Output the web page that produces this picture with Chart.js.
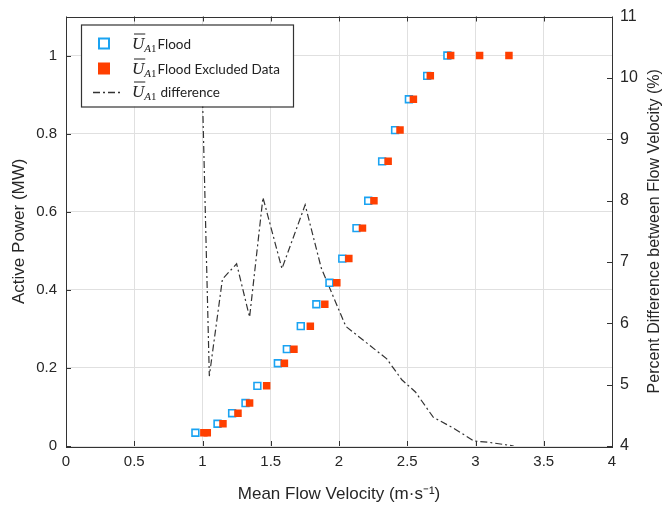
<!DOCTYPE html>
<html><head><meta charset="utf-8">
<script src="https://cdn.jsdelivr.net/npm/chart.js@4.4.0/dist/chart.umd.min.js"></script>
<style>html,body{margin:0;padding:0;background:#fff;overflow:hidden}#wrap{position:relative;width:668px;height:505px}</style>
</head><body><div id="wrap"><canvas id="c" width="668" height="505"></canvas></div>
<script>
// ---- data ----
const velFlood = [0.948, 1.11, 1.217, 1.315, 1.402, 1.552, 1.618, 1.72, 1.834, 1.93, 2.024, 2.128, 2.214, 2.316, 2.411, 2.512, 2.646, 2.794];
const powerFlood = [0.034, 0.057, 0.084, 0.110, 0.154, 0.212, 0.248, 0.307, 0.363, 0.418, 0.480, 0.558, 0.628, 0.729, 0.809, 0.888, 0.948, 1.0];
const velExcluded = [1.01, 1.035, 1.15, 1.26, 1.345, 1.47, 1.60, 1.67, 1.79, 1.896, 1.984, 2.072, 2.172, 2.256, 2.36, 2.447, 2.545, 2.669, 2.818, 3.03, 3.245];
const powerExcluded = [0.034, 0.034, 0.057, 0.084, 0.110, 0.154, 0.212, 0.248, 0.307, 0.363, 0.418, 0.480, 0.558, 0.628, 0.729, 0.809, 0.888, 0.948, 1.0, 1.0, 1.0];
const diffVel = [0.99, 1.05, 1.146, 1.25, 1.345, 1.443, 1.582, 1.752, 1.87, 2.05, 2.35, 2.46, 2.56, 2.69, 2.84, 2.99, 3.1, 3.28];
const diffPct = [10.6, 5.14, 6.72, 6.97, 6.10, 8.05, 6.89, 7.93, 6.9, 5.95, 5.42, 5.08, 4.88, 4.47, 4.29, 4.08, 4.06, 4.0];
const xTicks = [0, 0.5, 1, 1.5, 2, 2.5, 3, 3.5, 4];
const powerTicks = [0, 0.2, 0.4, 0.6, 0.8, 1];
const pctTicks = [4, 5, 6, 7, 8, 9, 10, 11];
const seriesNames = ['Flood', 'Flood Excluded Data', 'difference'];
const xTitle = 'Mean Flow Velocity (m\u00B7s\u207B\u00B9)';
const yTitle = 'Active Power (MW)';
const y2Title = 'Percent Difference between Flow Velocity (%)';

const BLUE = '#1aa3f2', RED = '#ff3f00', LINE = '#333333', AX = '#333333', TXT = '#262626';
const SANS = '"Liberation Sans", Arial, sans-serif';
const LEG = 'Lato, "Open Sans", sans-serif';

const pts = (xs, ys) => xs.map((x, i) => ({x: x, y: ys[i]}));

const boxPlugin = {
  id: 'boxPlugin',
  afterDraw(chart) {
    const ctx = chart.ctx, a = chart.chartArea;
    const sx = chart.scales.x, sy = chart.scales.y, sy2 = chart.scales.y2;
    ctx.save();
    ctx.strokeStyle = AX; ctx.lineWidth = 1;
    const L = 5;
    ctx.beginPath();
    xTicks.forEach(v => { const p = Math.round(sx.getPixelForValue(v)) + 0.5;
      ctx.moveTo(p, a.bottom); ctx.lineTo(p, a.bottom - L);
      ctx.moveTo(p, a.top); ctx.lineTo(p, a.top + L); });
    powerTicks.forEach(v => { const p = Math.round(sy.getPixelForValue(v)) + 0.5;
      ctx.moveTo(a.left, p); ctx.lineTo(a.left + L, p); });
    pctTicks.forEach(v => { const p = Math.round(sy2.getPixelForValue(v)) + 0.5;
      ctx.moveTo(a.right, p); ctx.lineTo(a.right - L, p); });
    ctx.stroke();
    ctx.strokeRect(Math.round(a.left) + 0.5, Math.round(a.top) + 0.5, Math.round(a.right - a.left), Math.round(a.bottom - a.top));
    ctx.fillStyle = TXT; ctx.font = '16px ' + SANS;
    ctx.textAlign = 'center'; ctx.textBaseline = 'middle';
    ctx.translate(655, (a.top + a.bottom) / 2);
    ctx.rotate(-Math.PI / 2);
    ctx.fillText(y2Title, 0, 0);
    ctx.restore();

    // legend
    ctx.save();
    const lx = a.left + 15, ly = a.top + 8, lw = 212, lh = 82;
    ctx.fillStyle = '#fff'; ctx.fillRect(lx, ly, lw, lh);
    ctx.strokeStyle = '#333'; ctx.lineWidth = 1.2;
    ctx.strokeRect(lx + 0.5, ly + 0.5, lw, lh);
    const rows = [ly + 19, ly + 44, ly + 67];
    const sxm = lx + 23;
    ctx.strokeStyle = BLUE; ctx.lineWidth = 2; ctx.fillStyle = '#fff';
    ctx.fillRect(sxm - 5, rows[0] - 5, 10, 10); ctx.strokeRect(sxm - 5, rows[0] - 5, 10, 10);
    ctx.fillStyle = RED; ctx.fillRect(sxm - 6, rows[1] - 6, 12, 12);
    ctx.strokeStyle = LINE; ctx.lineWidth = 1.4; ctx.setLineDash([7, 3, 2, 3]);
    ctx.beginPath(); ctx.moveTo(lx + 12, rows[2] + 1); ctx.lineTo(lx + 39, rows[2] + 1); ctx.stroke();
    ctx.setLineDash([]);
    ctx.fillStyle = '#222'; ctx.textAlign = 'left'; ctx.textBaseline = 'alphabetic';
    rows.forEach((ry, i) => {
      let tx = lx + 51;
      const base = ry + 5;
      ctx.font = 'italic 17px "Liberation Serif", serif';
      ctx.fillText('U', tx, base);
      const wU = ctx.measureText('U').width;
      ctx.lineWidth = 1; ctx.strokeStyle = '#222';
      ctx.beginPath(); ctx.moveTo(tx + 2, base - 14.5); ctx.lineTo(tx + wU + 1, base - 14.5); ctx.stroke();
      tx += wU;
      ctx.font = 'italic 11px "Liberation Serif", serif';
      ctx.fillText('A', tx, base + 3);
      tx += ctx.measureText('A').width;
      ctx.font = '11px "Liberation Serif", serif';
      ctx.fillText('1', tx, base + 3);
      tx += ctx.measureText('1').width + (i === 2 ? 4 : 1);
      ctx.font = '13.5px ' + LEG;
      ctx.fillText(seriesNames[i], tx, base);
    });
    ctx.restore();
  }
};

const tickFont = {family: SANS, size: 15};
new Chart(document.getElementById('c'), {
  type: 'scatter',
  data: {
    datasets: [
      {label: seriesNames[0], data: pts(velFlood, powerFlood), yAxisID: 'y', order: 1,
       pointStyle: 'rect', pointRadius: 4.8, pointBorderWidth: 1.6, pointBorderColor: BLUE, pointBackgroundColor: '#fff'},
      {label: seriesNames[1], data: pts(velExcluded, powerExcluded), yAxisID: 'y', order: 0,
       pointStyle: 'rect', pointRadius: 5.3, pointBorderWidth: 0, pointBorderColor: RED, pointBackgroundColor: RED},
      {label: seriesNames[2], type: 'line', data: pts(diffVel, diffPct), yAxisID: 'y2', order: 2,
       showLine: true, borderColor: LINE, borderWidth: 1.2, borderDash: [7, 3, 2, 3], pointRadius: 0, fill: false, tension: 0}
    ]
  },
  options: {
    responsive: false, animation: false, devicePixelRatio: 1,
    layout: {padding: {top: 6, left: 0, right: 0, bottom: 0}},
    plugins: {legend: {display: false}, tooltip: {enabled: false}},
    scales: {
      x: {type: 'linear', position: 'bottom', min: 0, max: 4,
          afterBuildTicks: s => { s.ticks = xTicks.map(v => ({value: v})); },
          afterFit: s => { s.height = 59; },
          ticks: {font: tickFont, color: TXT, padding: 7, maxRotation: 0, callback: v => String(v)},
          grid: {color: '#e0e0e0', drawTicks: false}, border: {display: false},
          title: {display: true, text: xTitle, color: TXT, font: {family: SANS, size: 17}, padding: {top: 0, bottom: 0}}},
      y: {type: 'linear', position: 'left', min: 0, max: 1.1,
          afterBuildTicks: s => { s.ticks = powerTicks.map(v => ({value: v})); },
          afterFit: s => { s.width = 66; },
          ticks: {font: {family: SANS, size: 15, lineHeight: 1}, color: TXT, padding: 9, callback: v => String(v)},
          grid: {color: '#e0e0e0', drawTicks: false}, border: {display: false},
          title: {display: true, text: yTitle, color: TXT, font: {family: SANS, size: 17}, padding: {top: 9, bottom: 0}}},
      y2: {type: 'linear', position: 'right', min: 4, max: 11,
          afterBuildTicks: s => { s.ticks = pctTicks.map(v => ({value: v})); },
          afterFit: s => { s.width = 56; },
          ticks: {font: {family: SANS, size: 16, lineHeight: 1}, color: TXT, padding: 8, callback: v => String(v)},
          grid: {display: false, drawTicks: false}, border: {display: false}}
    }
  },
  plugins: [boxPlugin]
});
</script></body></html>
